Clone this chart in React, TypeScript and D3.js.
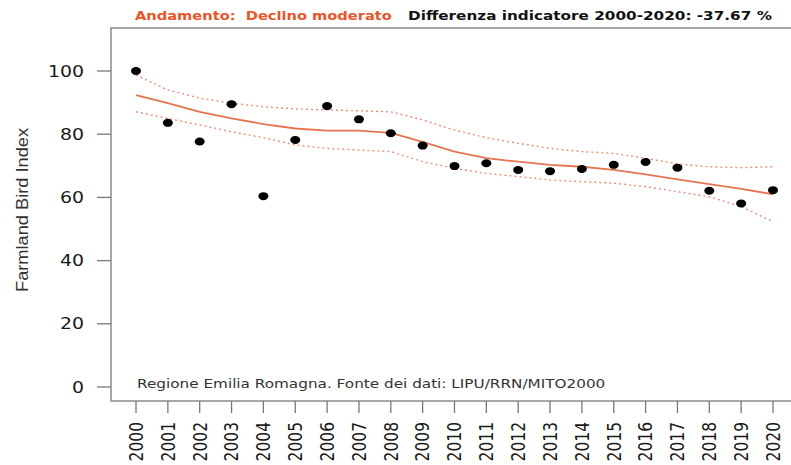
import React from "react";
import * as d3 from "d3";

const years = d3.range(2000, 2021);
const index = [100, 83.6, 77.7, 89.5, 60.4, 78.2, 88.9, 84.7, 80.3, 76.4, 69.9, 70.8, 68.7, 68.3, 69.0, 70.3, 71.2, 69.4, 62.1, 58.1, 62.3];
const trend = [92.4, 89.8, 87.1, 85.0, 83.2, 81.8, 81.1, 81.1, 80.4, 77.6, 74.5, 72.4, 71.3, 70.3, 69.7, 68.7, 67.3, 65.7, 64.2, 62.7, 61.0];
const upper = [98.7, 94.0, 91.4, 89.8, 88.7, 88.0, 87.7, 87.4, 87.1, 84.5, 81.3, 78.9, 77.1, 75.5, 74.5, 73.9, 72.4, 70.6, 69.7, 69.4, 69.7];
const lower = [87.1, 85.0, 82.9, 80.8, 78.9, 76.6, 75.5, 75.0, 74.5, 71.3, 69.2, 67.6, 66.6, 65.5, 65.0, 64.5, 63.4, 61.8, 60.2, 57.1, 52.3];
const yTicks = [0, 20, 40, 60, 80, 100];

const SX = 1.22; // horizontal stretch of the source image text

export default function App() {
  const width = 791;
  const height = 465;
  const frame = { left: 111, top: 28, bottom: 401 };

  const x = d3.scaleLinear().domain([2000, 2020]).range([136, 773]);
  const y = d3.scaleLinear().domain([0, 100]).range([387, 71]);

  const line = (vals: number[]) =>
    d3.line<number>().x((_, i) => x(years[i])).y((d) => y(d))(vals) || "";

  const font = "'DejaVu Sans', Verdana, sans-serif";

  return (
    <svg width={width} height={height} style={{ position: "absolute", left: 0, top: 0, background: "#fff" }}>
      {/* title */}
      <g fontFamily={font} fontWeight="bold">
        <text transform={`translate(135,20) scale(${SX},1)`} fontSize={12} fill="#e8552b" style={{ whiteSpace: "pre" }}>
          {"Andamento:  Declino moderato"}
        </text>
        <text transform={`translate(408,20) scale(${SX},1)`} fontSize={12.5} fill="#111">
          Differenza indicatore 2000-2020: -37.67 %
        </text>
      </g>

      {/* frame */}
      <path
        d={`M${width + 5},${frame.top}H${frame.left}V${frame.bottom}H${width + 5}`}
        fill="none"
        stroke="#8a8a8a"
        strokeWidth={1.5}
      />

      {/* y axis */}
      {yTicks.map((t) => (
        <g key={t}>
          <line x1={97} x2={frame.left} y1={y(t)} y2={y(t)} stroke="#777" strokeWidth={1.3} />
          <text
            transform={`translate(84,${y(t)}) scale(${SX},1)`}
            textAnchor="end"
            dy="0.36em"
            fontFamily={font}
            fontSize={15.5}
            fill="#1a1a1a"
          >
            {t}
          </text>
        </g>
      ))}
      <text
        transform={`translate(28,210) rotate(-90)`}
        textAnchor="middle"
        fontFamily="'Liberation Sans', Arial, sans-serif"
        fontSize={16}
        textLength={164}
        lengthAdjust="spacingAndGlyphs"
        fill="#333"
      >
        Farmland Bird Index
      </text>

      {/* x axis */}
      {years.map((yr) => (
        <g key={yr}>
          <line x1={x(yr)} x2={x(yr)} y1={frame.bottom} y2={413} stroke="#777" strokeWidth={1.3} />
          <text
            transform={`translate(${x(yr)},422) scale(${SX},1) rotate(-90)`}
            textAnchor="end"
            dy="0.36em"
            fontFamily={font}
            fontSize={15.5}
            fill="#1a1a1a"
          >
            {yr}
          </text>
        </g>
      ))}

      {/* confidence band */}
      <path d={line(upper)} fill="none" stroke="#e9907a" strokeWidth={1.4} strokeDasharray="2,3" />
      <path d={line(lower)} fill="none" stroke="#e9907a" strokeWidth={1.4} strokeDasharray="2,3" />
      {/* trend */}
      <path d={line(trend)} fill="none" stroke="#e5744f" strokeWidth={1.8} />

      {/* points */}
      {index.map((v, i) => (
        <ellipse key={i} cx={x(years[i])} cy={y(v)} rx={5} ry={4} fill="#000" />
      ))}

      {/* footnote */}
      <text
        transform={`translate(137,388) scale(${SX},1)`}
        fontFamily={font}
        fontSize={12.5}
        fill="#333"
      >
        Regione Emilia Romagna. Fonte dei dati: LIPU/RRN/MITO2000
      </text>
    </svg>
  );
}
